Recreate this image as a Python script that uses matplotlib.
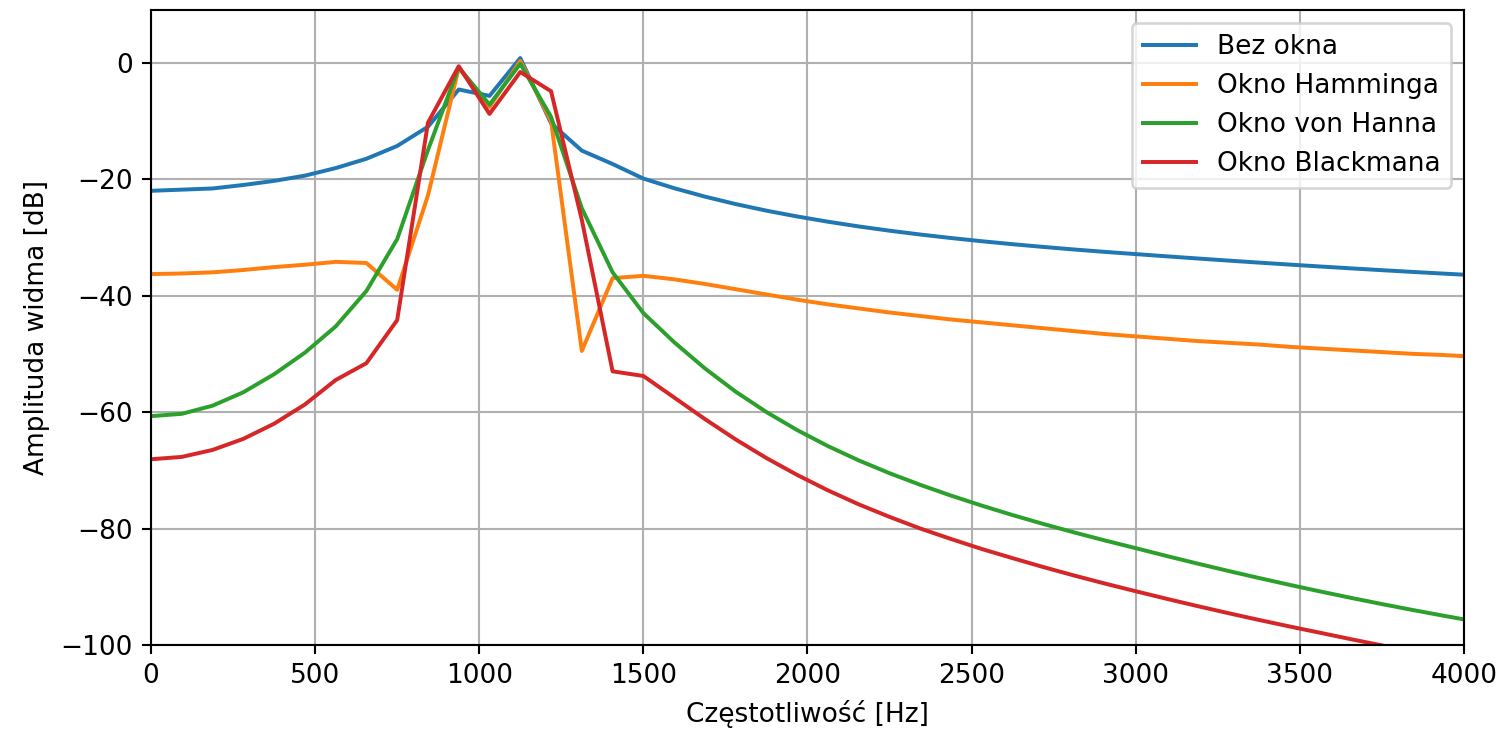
import numpy as np
import matplotlib
matplotlib.use("Agg")
import matplotlib.pyplot as plt

# frequency bins (Hz)
freq_step = 93.75
n_bins = 44
freqs = [k * freq_step for k in range(n_bins)]

labels = ["Bez okna", "Okno Hamminga", "Okno von Hanna", "Okno Blackmana"]

bez_okna = [
    -22.0, -21.8, -21.6, -21.0, -20.3, -19.4, -18.1, -16.5, -14.3, -11.0,
    -4.6, -5.7, 0.8, -10.4, -15.1, -17.4, -19.9,
    -21.55, -23.0, -24.28, -25.41, -26.41, -27.31, -28.12, -28.85, -29.51,
    -30.11, -30.66, -31.17, -31.64, -32.08, -32.49, -32.87, -33.25, -33.62,
    -33.98, -34.33, -34.67, -35.0, -35.32, -35.63, -35.93, -36.22, -36.5,
]

hamming = [
    -36.3, -36.2, -36.0, -35.6, -35.1, -34.7, -34.2, -34.4, -39.0, -22.8,
    -0.9, -7.6, 0.3, -10.0, -49.5, -37.0, -36.6,
    -37.2, -38.0, -38.9, -39.8, -40.7, -41.5, -42.2, -42.9, -43.5, -44.1,
    -44.6, -45.1, -45.6, -46.1, -46.6, -47.0, -47.4, -47.8, -48.1, -48.4,
    -48.8, -49.1, -49.4, -49.7, -50.0, -50.2, -50.5,
]

hann = [
    -60.7, -60.3, -58.9, -56.6, -53.5, -49.8, -45.3, -39.2, -30.3, -15.0,
    -0.8, -7.2, -0.2, -9.3, -25.0, -36.0, -43.0,
    -48.0, -52.5, -56.5, -60.0, -63.1, -65.85, -68.3, -70.5, -72.5, -74.35,
    -76.07, -77.69, -79.22, -80.67, -82.05, -83.37, -84.71, -86.01, -87.27,
    -88.49, -89.67, -90.81, -91.91, -92.97, -93.99, -94.97, -95.92,
]

blackman = [
    -68.1, -67.7, -66.5, -64.6, -62.0, -58.7, -54.5, -51.6, -44.2, -10.3,
    -0.6, -8.8, -1.6, -4.9, -27.0, -53.0, -53.8,
    -57.5, -61.2, -64.7, -67.9, -70.8, -73.45, -75.85, -78.0, -80.0, -81.8,
    -83.52, -85.09, -86.62, -88.07, -89.45, -90.77, -92.06, -93.31, -94.52,
    -95.69, -96.82, -97.91, -99.01, -100.07, -101.09, -102.07, -103.02,
]

DPI = 190
fig = plt.figure(figsize=(1501 / DPI, 729 / DPI), dpi=DPI)
ax = fig.add_axes([151 / 1501, 1 - 645 / 729, (1464 - 151) / 1501, (645 - 10) / 729])

for series, lab in zip([bez_okna, hamming, hann, blackman], labels):
    ax.plot(freqs, series, label=lab, linewidth=1.5)

ax.set_xlim(0, 4000)
ax.set_ylim(-100, 9.05)
ax.set_xlabel("Częstotliwość [Hz]")
ax.set_ylabel("Amplituda widma [dB]")
ax.grid(True)
ax.legend(loc="upper right")

fig.savefig("out.png", dpi=DPI)
